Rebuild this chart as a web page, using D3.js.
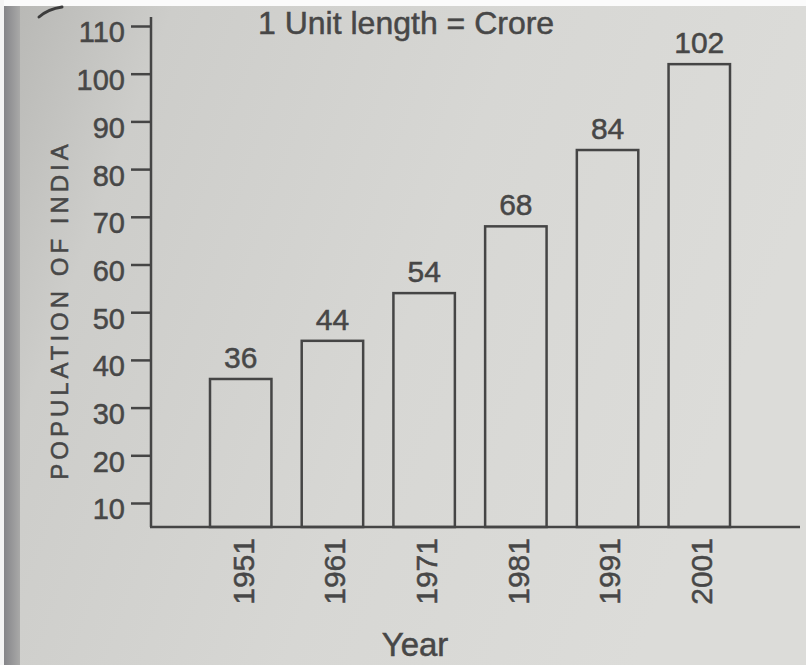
<!DOCTYPE html>
<html>
<head>
<meta charset="utf-8">
<script src="https://cdn.jsdelivr.net/npm/d3@7"></script>
<style>
  body { margin: 0; background: #fff; }
  svg text { font-family: "Liberation Sans", Arial, Helvetica, sans-serif; fill: #474747; stroke: #474747; stroke-width: 0.5px; }
</style>
</head>
<body>
<svg class="chart"></svg>
<script>
const width = 806,
  height = 665;

// data
const years = ["1951", "1961", "1971", "1981", "1991", "2001"];
const population = [36, 44, 54, 68, 84, 102];
const yTicks = [10, 20, 30, 40, 50, 60, 70, 80, 90, 100, 110];

const ink = "#454545";
const narrow = "'Liberation Sans Narrow', 'Arial Narrow', 'Liberation Sans', Arial, sans-serif";

let chart = d3.select(".chart")
  .attr("width", width)
  .attr("height", height);

// paper background
let defs = chart.append("defs");
let grad = defs.append("linearGradient")
  .attr("id", "paper")
  .attr("x1", "0%").attr("y1", "0%")
  .attr("x2", "100%").attr("y2", "30%");
grad.append("stop").attr("offset", "0%").attr("stop-color", "#b6b6b3");
grad.append("stop").attr("offset", "20%").attr("stop-color", "#cdcdca");
grad.append("stop").attr("offset", "60%").attr("stop-color", "#d7d7d4");
grad.append("stop").attr("offset", "100%").attr("stop-color", "#dcdcd9");

chart.append("rect")
  .attr("x", 0).attr("y", 0)
  .attr("width", width).attr("height", height)
  .attr("fill", "url(#paper)");

let edge = defs.append("linearGradient")
  .attr("id", "edge")
  .attr("x1", "0%").attr("x2", "100%");
edge.append("stop").attr("offset", "0%").attr("stop-color", "#858589");
edge.append("stop").attr("offset", "100%").attr("stop-color", "#a9a9a8");

chart.append("rect")
  .attr("x", 4).attr("y", 6)
  .attr("width", 16).attr("height", height)
  .attr("fill", "url(#edge)");
chart.append("rect")
  .attr("x", 0).attr("y", 0)
  .attr("width", width).attr("height", 6)
  .attr("fill", "#fbfbfb");
chart.append("rect")
  .attr("x", 0).attr("y", 0)
  .attr("width", 4).attr("height", height)
  .attr("fill", "#f4f4f4");

// stray pen mark at top left
chart.append("path")
  .attr("d", "M39,17 Q48,9 62,7")
  .attr("fill", "none")
  .attr("stroke", "#3c3c3c")
  .attr("stroke-width", 3)
  .attr("stroke-linecap", "round");

// scales
let y = d3.scaleLinear()
  .domain([10, 110])
  .range([503, 26]);

let x = d3.scaleBand()
  .domain(years)
  .range([210, 730])
  .paddingInner(0.33)
  .paddingOuter(0);

const axisX = 151,
  baseY = 527;

// y axis
let yAxis = chart.append("g")
  .attr("transform", `translate(${axisX},0)`)
  .call(d3.axisLeft(y).tickValues(yTicks).tickSize(20).tickPadding(6));
yAxis.select(".domain").remove();
yAxis.selectAll(".tick line")
  .attr("stroke", ink)
  .attr("stroke-width", 2.5);
yAxis.selectAll(".tick text")
  .attr("dy", "0.55em")
  .style("font-size", "29px")
  .style("font-family", narrow)
  .attr("fill", "#474747");

chart.append("line")
  .attr("x1", axisX).attr("x2", axisX)
  .attr("y1", 17).attr("y2", baseY)
  .attr("stroke", ink)
  .attr("stroke-width", 2.5);

// bars
chart.append("g").selectAll("rect")
  .data(population)
  .enter().append("rect")
  .attr("x", (d, i) => x(years[i]))
  .attr("y", d => y(d))
  .attr("width", x.bandwidth())
  .attr("height", d => baseY - y(d))
  .attr("fill", "none")
  .attr("stroke", ink)
  .attr("stroke-width", 2.5);

// x axis line
chart.append("line")
  .attr("x1", axisX - 1).attr("x2", 800)
  .attr("y1", baseY).attr("y2", baseY)
  .attr("stroke", ink)
  .attr("stroke-width", 2.5);

// value labels
chart.append("g").selectAll("text")
  .data(population)
  .enter().append("text")
  .attr("x", (d, i) => x(years[i]) + x.bandwidth() / 2)
  .attr("y", d => y(d) - 11)
  .attr("text-anchor", "middle")
  .style("font-size", "30px")
  .text(d => d);

// year labels
chart.append("g").selectAll("text")
  .data(years)
  .enter().append("text")
  .attr("transform", d => `translate(${x(d) + x.bandwidth() / 2 + 2},${baseY + 11}) rotate(-90)`)
  .attr("text-anchor", "end")
  .attr("dy", "0.36em")
  .style("font-size", "30px")
  .style("font-family", narrow)
  .text(d => d);

// titles
chart.append("text")
  .attr("x", 258)
  .attr("y", 34)
  .style("font-size", "32px")
  .text("1 Unit length = Crore");

chart.append("text")
  .attr("x", 415)
  .attr("y", 656)
  .attr("text-anchor", "middle")
  .style("font-size", "33px")
  .text("Year");

chart.append("text")
  .attr("transform", "translate(59,310) rotate(-90)")
  .attr("text-anchor", "middle")
  .attr("dy", "0.36em")
  .style("font-size", "24px")
  .style("letter-spacing", "4px")
  .text("POPULATION OF INDIA");
</script>
</body>
</html>
